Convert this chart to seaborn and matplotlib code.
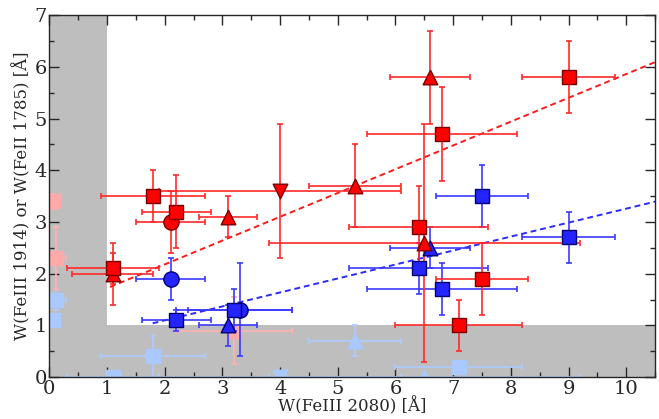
import numpy as np
import pandas as pd
import matplotlib
matplotlib.use("Agg")
import matplotlib.pyplot as plt
import seaborn as sns
from matplotlib.ticker import MultipleLocator

# FeIII 1914 (rojo) frente a W(FeIII 2080)
red_x = [1.1, 1.1, 1.8, 2.1, 2.2, 3.1, 3.2, 4.0, 5.3, 6.4, 6.5, 6.6, 6.8, 7.1, 7.5, 9.0, 0.07, 0.12]
red_xerr = [0.8, 0.7, 0.9, 0.6, 0.6, 0.5, 1.0, 2.1, 0.8, 1.2, 2.7, 0.7, 1.3, 1.1, 0.8, 0.8, 0.05, 0.17]
red_y = [2.1, 2.0, 3.5, 3.0, 3.2, 3.1, 0.9, 3.6, 3.7, 2.9, 2.6, 5.8, 4.7, 1.0, 1.9, 5.8, 3.4, 2.3]
red_yerr = [0.3, 0.6, 0.5, 0.6, 0.7, 0.4, 0.65, 1.3, 0.8, 0.8, 2.3, 0.9, 0.9, 0.5, 0.7, 0.7, 0.15, 0.6]
red_marker = ["s", "^", "s", "o", "s", "^", "s", "v", "^", "s", "^", "^", "s", "s", "s", "s", "s", "s"]

# FeII 1785 (azul) frente a W(FeIII 2080)
blue_x = [1.1, 1.8, 2.1, 2.2, 3.1, 3.2, 3.3, 4.0, 5.3, 6.4, 6.5, 6.6, 6.8, 7.1, 7.5, 9.0, 0.07, 0.12]
blue_xerr = [0.8, 0.9, 0.6, 0.6, 0.5, 1.0, 0.9, 2.1, 0.8, 1.2, 2.7, 0.7, 1.3, 1.1, 0.8, 0.8, 0.05, 0.17]
blue_y = [0.0, 0.4, 1.9, 1.1, 1.0, 1.3, 1.3, 0.0, 0.7, 2.1, 0.0, 2.5, 1.7, 0.2, 3.5, 2.7, 1.1, 1.5]
blue_yerr = [0.0, 0.4, 0.4, 0.2, 0.4, 0.4, 0.9, 0.0, 0.3, 0.5, 0.0, 0.4, 0.5, 0.0, 0.6, 0.5, 0.0, 0.2]
blue_marker = ["s", "s", "o", "s", "^", "s", "o", "v", "^", "s", "^", "^", "s", "s", "s", "s", "s", "s"]

# ajustes lineales (pendiente, ordenada, rango en x)
red_fit = (0.46, 1.26, 1.05, 10.5)
blue_fit = (0.27, 0.557, 1.79, 10.5)

sns.set_style("ticks")
plt.rcParams["font.family"] = ["DejaVu Serif"]

df = pd.concat(
    [
        pd.DataFrame(dict(x=red_x, xerr=red_xerr, y=red_y, yerr=red_yerr, marker=red_marker, linea="FeIII")),
        pd.DataFrame(dict(x=blue_x, xerr=blue_xerr, y=blue_y, yerr=blue_yerr, marker=blue_marker, linea="FeII")),
    ],
    ignore_index=True,
)
df["faded"] = (df["x"] < 1) | (df["y"] < 1)

colores = {
    ("FeIII", False): dict(face="#ff0000", edge="#7a0000", err="#ff2a2a"),
    ("FeII", False): dict(face="#2424ff", edge="#00006e", err="#3a3aff"),
    ("FeIII", True): dict(face="#ffaaaa", edge="#ffaaaa", err="#ffb0b0"),
    ("FeII", True): dict(face="#a9c9ff", edge="#a9c9ff", err="#aecbff"),
}

fig, ax = plt.subplots(figsize=(6.59, 4.19), dpi=100)
fig.subplots_adjust(left=0.075, right=0.994, top=0.964, bottom=0.1)

# zonas excluidas
ax.axvspan(0, 1, color="#bebebe", zorder=0, lw=0)
ax.axhspan(0, 1, color="#bebebe", zorder=0, lw=0)

for faded in [True, False]:
    for linea in ["FeII", "FeIII"]:
        sub = df[(df["faded"] == faded) & (df["linea"] == linea)]
        c = colores[(linea, faded)]
        z = 2 if faded else 4
        ax.errorbar(
            sub["x"], sub["y"], xerr=sub["xerr"], yerr=sub["yerr"],
            fmt="none", ecolor=c["err"], elinewidth=1.2, capsize=2.5,
            capthick=1.2, zorder=z,
        )
        for mk, g in sub.groupby("marker"):
            sns.scatterplot(
                data=g, x="x", y="y", marker=mk, s=110 if mk != "o" else 120,
                color=c["face"], edgecolor=c["edge"], linewidth=1.0,
                ax=ax, zorder=z + 1, legend=False,
            )

for fit, col in [(red_fit, "#ff1a1a"), (blue_fit, "#2a2aff")]:
    m, b, x0, x1 = fit
    xs = np.array([x0, x1])
    ax.plot(xs, m * xs + b, linestyle=(0, (3, 2)), color=col, lw=1.4, zorder=3)

ax.set_xlim(0, 10.5)
ax.set_ylim(0, 7)
ax.xaxis.set_major_locator(MultipleLocator(1))
ax.xaxis.set_minor_locator(MultipleLocator(0.5))
ax.yaxis.set_major_locator(MultipleLocator(1))
ax.yaxis.set_minor_locator(MultipleLocator(0.5))
ax.tick_params(which="both", direction="in", top=True, right=True, labelsize=14, width=1.0)
ax.tick_params(which="major", length=7, pad=2)
ax.tick_params(which="minor", length=3.5)
for s in ax.spines.values():
    s.set_linewidth(1.0)
    s.set_zorder(10)

ax.set_xlabel("W(FeIII 2080) [Å]", fontsize=12, labelpad=-1)
ax.set_ylabel("W(FeIII 1914) or W(FeII 1785) [Å]", fontsize=12, labelpad=2)

fig.savefig("out.png", dpi=100)
